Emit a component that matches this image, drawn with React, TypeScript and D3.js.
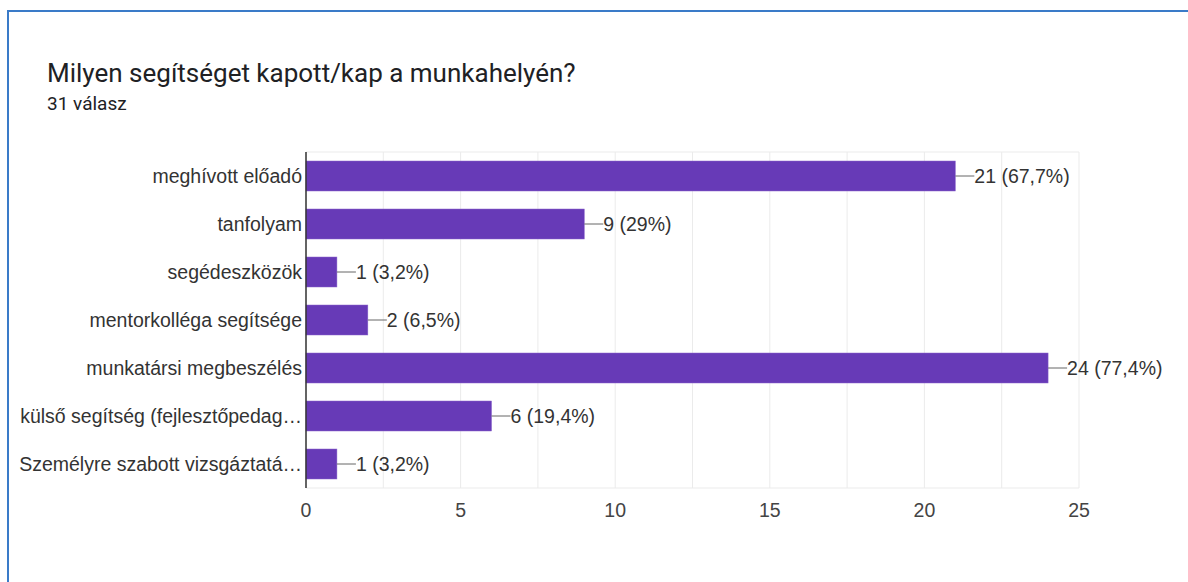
import React from "react";
import * as d3 from "d3";

const categories = [
  "meghívott előadó",
  "tanfolyam",
  "segédeszközök",
  "mentorkolléga segítsége",
  "munkatársi megbeszélés",
  "külső segítség (fejlesztőpedag…",
  "Személyre szabott vizsgáztatá…",
];
const counts = [21, 9, 1, 2, 24, 6, 1];
const percents = ["67,7%", "29%", "3,2%", "6,5%", "77,4%", "19,4%", "3,2%"];
const xTicks = [0, 5, 10, 15, 20, 25];
const gridValues = d3.range(0, 25.01, 2.5);

const W = 1188;
const H = 582;
const left = 306;
const right = 1079;
const top = 152;
const bottom = 488;

export default function App() {
  const x = d3.scaleLinear().domain([0, 25]).range([left, right]);
  const y = d3
    .scaleBand<string>()
    .domain(categories)
    .range([top, bottom])
    .paddingInner(0.375)
    .paddingOuter(0.1875);
  const labelFont = "Arial, 'Liberation Sans', sans-serif";
  const fs = 19.5;
  return (
    <svg
      width={W}
      height={H}
      style={{ position: "absolute", left: 0, top: 0, background: "#fff" }}
    >
      <rect x={0} y={0} width={W} height={H} fill="#fff" />
      {/* blue frame */}
      <line x1={8} y1={11} x2={W} y2={11} stroke="#3a7bc8" strokeWidth={2} />
      <line x1={8} y1={10} x2={8} y2={H} stroke="#3a7bc8" strokeWidth={2} />
      <text
        x={47}
        y={82}
        fontFamily="Roboto, sans-serif"
        fontSize={26}
        fill="#202124"
      >
        Milyen segítséget kapott/kap a munkahelyén?
      </text>
      <text
        x={47}
        y={110}
        fontFamily="Roboto, sans-serif"
        fontSize={19}
        fill="#202124"
      >
        31 válasz
      </text>
      {/* grid */}
      {gridValues.map((v) => (
        <line
          key={v}
          x1={x(v)}
          x2={x(v)}
          y1={top}
          y2={bottom}
          stroke="#ebebeb"
          strokeWidth={1}
        />
      ))}
      <line x1={left} x2={right} y1={top} y2={top} stroke="#ebebeb" />
      <line x1={left} x2={right} y1={bottom} y2={bottom} stroke="#ebebeb" />
      {/* bars */}
      {categories.map((c, i) => {
        const yy = y(c)!;
        const bw = y.bandwidth();
        const xe = x(counts[i]);
        return (
          <g key={c}>
            <rect
              x={x(0)}
              y={yy}
              width={xe - x(0)}
              height={bw}
              fill="#673ab7"
              stroke="#8a64cc"
              strokeWidth={0.5}
            />
            <line
              x1={xe}
              x2={xe + 19}
              y1={yy + bw / 2}
              y2={yy + bw / 2}
              stroke="#666"
              strokeWidth={1}
            />
            <text
              x={xe + 19}
              y={yy + bw / 2}
              dy="0.35em"
              fontFamily={labelFont}
              fontSize={fs}
              fill="#333"
            >
              {`${counts[i]} (${percents[i]})`}
            </text>
            <text
              x={left - 4}
              y={yy + bw / 2}
              dy="0.35em"
              textAnchor="end"
              fontFamily={labelFont}
              fontSize={fs}
              fill="#333"
            >
              {c}
            </text>
          </g>
        );
      })}
      <line x1={left} x2={left} y1={top} y2={bottom} stroke="#333" strokeWidth={1.5} />
      {xTicks.map((t) => (
        <text
          key={t}
          x={x(t)}
          y={517}
          textAnchor="middle"
          fontFamily={labelFont}
          fontSize={fs}
          fill="#444"
        >
          {t}
        </text>
      ))}
    </svg>
  );
}
